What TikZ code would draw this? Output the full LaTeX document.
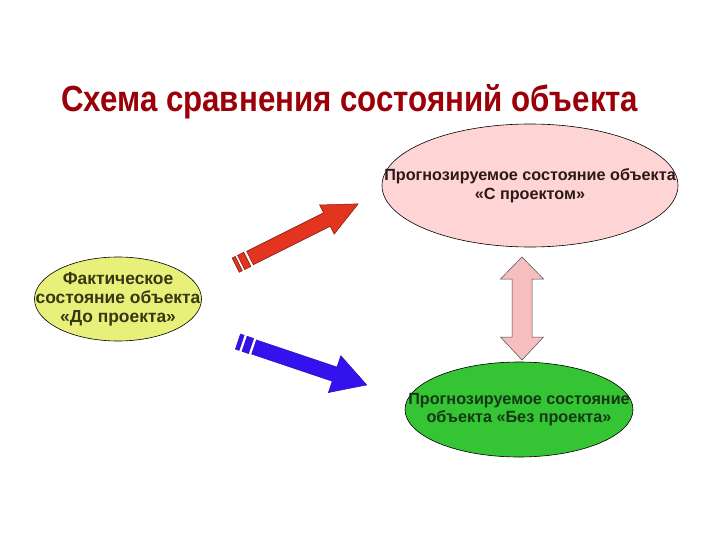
\documentclass[tikz,border=0pt]{standalone}
\usepackage{graphicx}
\usepackage{fontspec}
\setmainfont{Liberation Sans}
\usetikzlibrary{shapes.geometric}
\definecolor{titlered}{RGB}{155,0,8}
\definecolor{pinkfill}{RGB}{255,212,212}
\definecolor{yellowfill}{RGB}{232,240,122}
\definecolor{greenfill}{RGB}{52,196,52}
\definecolor{redarrow}{RGB}{226,52,30}
\definecolor{redline}{RGB}{130,25,15}
\definecolor{bluearrow}{RGB}{52,18,238}
\definecolor{pinkarrow}{RGB}{246,190,190}
\definecolor{toptext}{RGB}{45,25,25}
\definecolor{lefttext}{RGB}{55,55,20}
\definecolor{bottext}{RGB}{20,55,20}
\tikzset{
  stateoval/.style={ellipse, draw=black, line width=0.6pt, inner sep=0pt},
  statetext/.style={inner sep=0pt, align=center, font=\bfseries\fontsize{16.2}{18.5}\selectfont},
  redbody/.style={fill=redarrow, draw=redline, line width=0.5pt},
  bluebody/.style={fill=bluearrow, draw=bluearrow!70!black, line width=0.4pt},
  pinkbody/.style={fill=pinkarrow, draw=black!70, line width=0.5pt},
}
\begin{document}
\begin{tikzpicture}[x=1pt,y=-1pt]
\useasboundingbox (0,0) rectangle (720,540);
\fill[white] (0,0) rectangle (720,540);

% title
\node[anchor=base west, inner sep=0pt, text=titlered] (title) at (61,112)
  {\resizebox{577pt}{27pt}{\bfseries Схема сравнения состояний объекта}};

% ellipses
\node[stateoval, fill=pinkfill, minimum width=296pt, minimum height=123pt]
  (with) at (530,185.5) {};
\node[statetext, text=toptext] (withtext) at (with.center)
  {Прогнозируемое состояние объекта\\«С проектом»};
\node[stateoval, fill=yellowfill, minimum width=167pt, minimum height=84pt]
  (before) at (118,299) {};
\node[statetext, text=lefttext, font=\bfseries\fontsize{17.4}{19}\selectfont]
  (beforetext) at (before.center) {Фактическое\\состояние объекта\\«До проекта»};
\node[stateoval, fill=greenfill, minimum width=228pt, minimum height=95pt]
  (without) at (519,409.5) {};
\node[statetext, text=bottext] (withouttext) at (without.center)
  {Прогнозируемое состояние\\объекта «Без проекта»};

% red arrow
\begin{scope}[shift={(250,258)}, rotate=26.57]
  \draw[redbody] (0,-7.5) -- (86,-7.5) -- (86,-16.3) -- (121,0) -- (86,16.3) -- (86,7.5) -- (0,7.5) -- cycle;
  \draw[redbody] (-10,-8) rectangle (-3,8);
  \draw[redbody] (-16,-8) rectangle (-12.5,8);
\end{scope}

% blue arrow
\begin{scope}[shift={(254,347)}, rotate=-18.6]
  \draw[bluebody] (0,-7.5) -- (85,-7.5) -- (85,-19.5) -- (119,0) -- (85,19.5) -- (85,7.5) -- (0,7.5) -- cycle;
  \draw[bluebody] (-10,-8) rectangle (-3,8);
  \draw[bluebody] (-17,-8) rectangle (-13,8);
\end{scope}

% double arrow
\draw[pinkbody] (522,257) -- (543.5,279) -- (532,279) -- (532,337) -- (543.5,337)
  -- (522,360) -- (500.5,337) -- (512,337) -- (512,279) -- (500.5,279) -- cycle;
\end{tikzpicture}
\end{document}
